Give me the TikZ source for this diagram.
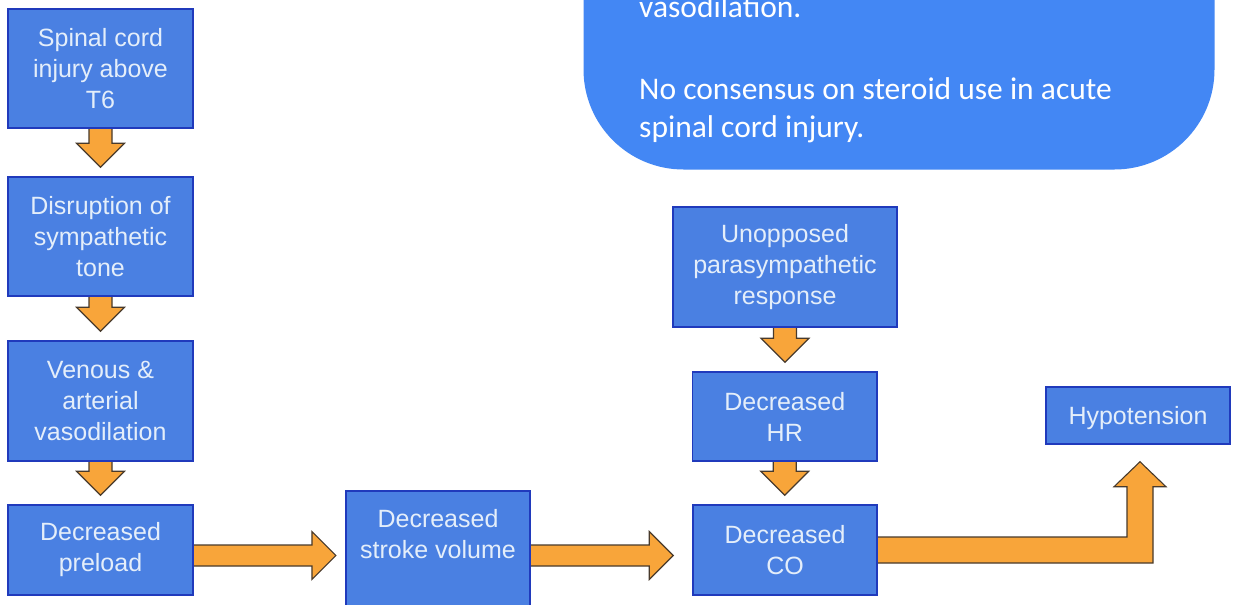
\documentclass[tikz,border=0pt]{standalone}
\usepackage{fontspec}
\setmainfont{Liberation Sans}
\newfontfamily\calloutfont{Carlito}
\usetikzlibrary{calc,backgrounds}
\definecolor{boxfill}{RGB}{74,128,226}
\definecolor{boxedge}{RGB}{32,58,188}
\definecolor{boxtext}{RGB}{228,238,250}
\definecolor{arrfill}{RGB}{248,165,58}
\definecolor{arredge}{RGB}{72,58,44}
\definecolor{callfill}{RGB}{67,135,244}
\tikzset{
  flowbox/.style={draw=boxedge, line width=1.5pt, fill=boxfill, text=boxtext,
    align=center, inner sep=0pt, font=\fontsize{25}{31}\selectfont},
  fatarrow/.style={draw=arredge, line width=1.1pt, fill=arrfill, line join=miter},
  callouttext/.style={text=white, align=left, inner sep=0pt,
    font=\calloutfont\fontsize{31.5}{38}\selectfont},
}
\newcommand\fatdown[2]{%
  \draw[fatarrow] let \p1=(#1.south), \p2=(#2.north) in
    (\x1-11.5pt,\y1+2pt) -- (\x1-11.5pt,\y2+33pt) -- (\x1-24pt,\y2+33pt)
    -- (\x1,\y2+9pt) -- (\x1+24pt,\y2+33pt) -- (\x1+11.5pt,\y2+33pt)
    -- (\x1+11.5pt,\y1+2pt);}
\newcommand\fatright[3]{%
  \draw[fatarrow] let \p1=(#1.east |- dco.west), \p2=(#2.west) in
    (\x1-2pt,\y1+5pt) -- (\x2-#3-24pt,\y1+5pt) -- (\x2-#3-24pt,\y1+18.5pt)
    -- (\x2-#3,\y1-5.5pt) -- (\x2-#3-24pt,\y1-29.5pt) -- (\x2-#3-24pt,\y1-16pt)
    -- (\x1-2pt,\y1-16pt);}
\begin{document}
\begin{tikzpicture}[x=1pt,y=-1pt]
\useasboundingbox (0,0) rectangle (1235,605);
% callout
\begin{scope}
  \clip (0,0) rectangle (1235,605);
  \path[fill=callfill, rounded corners=100pt] (583.5,-220) rectangle (1214.5,169.5);
  \node[callouttext, anchor=base west] (note) at (639,137)
    {vasodilation.\\[44pt]No consensus on steroid use in acute\\spinal cord injury.};
\end{scope}
% boxes
\node[flowbox, minimum width=185pt, minimum height=119pt] (sci) at (100.5,68.5)
  {Spinal cord\\injury above\\T6};
\node[flowbox, minimum width=185pt, minimum height=119pt] (dst) at (100.5,236.5)
  {Disruption of\\sympathetic\\tone};
\node[flowbox, minimum width=185pt, minimum height=120pt] (vav) at (100.5,401)
  {Venous \&\\arterial\\vasodilation};
\node[flowbox, minimum width=185pt, minimum height=90pt] (dpl) at (100.5,550)
  {Decreased\\preload};
\node[flowbox, minimum width=184pt, anchor=north] (dsv) at (438,490)
  {\parbox[c][130pt][t]{184pt}{\centering\vspace*{19pt}Decreased\\stroke volume}};
\node[flowbox, minimum width=224pt, minimum height=120pt] (upr) at (785,267)
  {Unopposed\\parasympathetic\\response};
\node[flowbox, minimum width=184.5pt, minimum height=89pt] (dhr) at (784.75,416.5)
  {Decreased\\HR};
\node[flowbox, minimum width=184pt, minimum height=90pt] (dco) at (785,550)
  {Decreased\\CO};
\node[flowbox, minimum width=184pt, minimum height=57pt, text depth=0pt] (hyp) at (1138,415.5)
  {Hypotension};
% arrows
\begin{scope}[on background layer]
  \fill[white] (0,0) rectangle (1235,605);
  \fatdown{sci}{dst}
  \fatdown{dst}{vav}
  \fatdown{vav}{dpl}
  \fatdown{upr}{dhr}
  \fatdown{dhr}{dco}
  \fatright{dpl}{dsv}{9.3pt}
  \fatright{dsv}{dco}{19pt}
  \draw[fatarrow] let \p1=(dco.east), \p2=(hyp.south) in
    (\x1-2pt,\y1+13pt) -- (\x2-11pt,\y1+13pt) -- (\x2-11pt,\y2-42pt)
    -- (\x2-24pt,\y2-42pt) -- (\x2+2pt,\y2-17pt) -- (\x2+28pt,\y2-42pt)
    -- (\x2+15pt,\y2-42pt) -- (\x2+15pt,\y1-13pt) -- (\x1-2pt,\y1-13pt);
\end{scope}
\end{tikzpicture}
\end{document}
